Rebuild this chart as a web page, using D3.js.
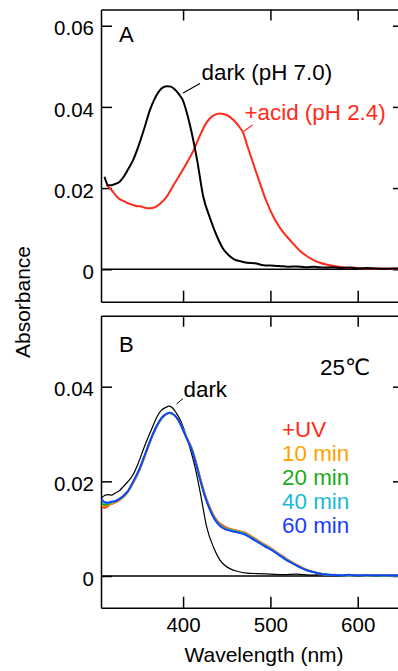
<!DOCTYPE html>
<html><head><meta charset="utf-8">
<script src="https://cdn.jsdelivr.net/npm/d3@7"></script>
<style>
html,body{margin:0;padding:0;background:#fff;overflow:hidden}
text{font-family:"Liberation Sans",Arial,"DejaVu Sans",sans-serif}
</style></head>
<body><svg id="c" width="398" height="671"></svg>
<script>
// ---- Data ----
const xTicks = [400, 500, 600];
const yTicksA = [0, 0.02, 0.04, 0.06];
const yTicksB = [0, 0.02, 0.04];

// Panel A: dark (pH 7.0)
const wlA_dark = [310,312,314,318,322,327,332,338,343,350,356,362,367,372,377,382,386,390,395,400,405,410,416,423,431,439,446,452,458,465,473,482,492,500,510,520,530,540,550,560,570,580,590,600,610,620,630,640,650];
const absA_dark = [0.0228,0.0215,0.0207,0.0207,0.0210,0.0215,0.0228,0.0250,0.0270,0.0310,0.0350,0.0392,0.0418,0.0437,0.0448,0.0451,0.0450,0.0444,0.0432,0.0415,0.0380,0.0335,0.0270,0.0180,0.0125,0.0080,0.0050,0.0035,0.0025,0.0020,0.0016,0.0015,0.0010,0.0009,0.0008,0.0006,0.0007,0.0005,0.0006,0.0004,0.0005,0.0003,0.0004,0.0002,0.0003,0.0002,0.0001,0.0002,0.0001];

// Panel A: +acid (pH 2.4)
const wlA_acid = [312,316,320,326,332,340,346,351,357,362,368,374,380,389,397,404,412,420,427,434,442,450,458,464,469,473,477,482,488,495,503,511,519,527,534,542,550,557,565,573,580,588,595,603,610,620,630,640,650];
const absA_acid = [0.0208,0.0200,0.0190,0.0175,0.0168,0.0160,0.0156,0.0155,0.0151,0.0150,0.0153,0.0162,0.0175,0.0207,0.0235,0.0261,0.0293,0.0333,0.0362,0.0378,0.0384,0.0380,0.0367,0.0352,0.0335,0.0308,0.0282,0.0250,0.0212,0.0170,0.0131,0.0102,0.0080,0.0061,0.0045,0.0032,0.0022,0.0016,0.0011,0.0008,0.0006,0.0003,0.0004,0.0002,0.0002,0.0001,0.0002,0.0001,0.0001];

// Panel B: dark
const wlB_dark = [307,310,314,318,322,327,332,337,343,349,355,360,365,370,375,380,384,388,392,397,402,408,414,420,427,435,442,448,454,462,473,485,500,515,530,545,560,575,590,605,620,635,650];
const absB_dark = [0.0165,0.0170,0.0172,0.0171,0.0175,0.0180,0.0190,0.0200,0.0215,0.0240,0.0270,0.0293,0.0315,0.0336,0.0350,0.0356,0.0359,0.0355,0.0345,0.0329,0.0305,0.0270,0.0228,0.0173,0.0104,0.0060,0.0034,0.0022,0.0015,0.0010,0.0006,0.0005,0.0004,0.0003,0.0004,0.0002,0.0003,0.0002,0.0002,0.0001,0.0002,0.0001,0.0001];

// Panel B: +UV series
const wlB_uv = [307,310,314,318,322,327,332,337,343,349,355,360,365,370,375,380,385,390,395,400,405,410,415,420,425,430,436,442,448,455,462,470,478,486,494,502,510,518,526,534,542,550,558,566,574,582,590,600,610,620,630,640,650];
const absB_uv0 = [0.0146,0.0144,0.0148,0.0152,0.0155,0.0160,0.0167,0.0178,0.0197,0.0219,0.0247,0.0272,0.0296,0.0316,0.0332,0.0341,0.0344,0.0340,0.0329,0.0310,0.0290,0.0270,0.0240,0.0205,0.0173,0.0148,0.0125,0.0111,0.0104,0.0099,0.0096,0.0092,0.0084,0.0075,0.0066,0.0057,0.0047,0.0037,0.0028,0.0020,0.0013,0.0008,0.0005,0.0002,0.0003,0.0001,0.0002,0.0002,0.0001,0.0002,0.0001,0.0002,0.0001];
const absB_uv10 = [0.0150,0.0147,0.0150,0.0153,0.0156,0.0161,0.0168,0.0178,0.0198,0.0220,0.0248,0.0273,0.0297,0.0317,0.0332,0.0341,0.0344,0.0340,0.0329,0.0309,0.0289,0.0269,0.0238,0.0203,0.0171,0.0146,0.0123,0.0109,0.0102,0.0098,0.0095,0.0091,0.0083,0.0074,0.0065,0.0056,0.0046,0.0036,0.0027,0.0019,0.0013,0.0008,0.0004,0.0003,0.0002,0.0002,0.0001,0.0002,0.0001,0.0001,0.0002,0.0001,0.0001];
const absB_uv20 = [0.0154,0.0150,0.0152,0.0155,0.0157,0.0162,0.0169,0.0179,0.0199,0.0221,0.0249,0.0274,0.0297,0.0317,0.0332,0.0341,0.0344,0.0340,0.0328,0.0309,0.0288,0.0268,0.0237,0.0202,0.0170,0.0145,0.0122,0.0108,0.0101,0.0097,0.0094,0.0090,0.0082,0.0073,0.0064,0.0055,0.0045,0.0035,0.0027,0.0019,0.0012,0.0008,0.0005,0.0002,0.0002,0.0001,0.0002,0.0001,0.0002,0.0001,0.0001,0.0002,0.0001];
const absB_uv40 = [0.0160,0.0154,0.0154,0.0156,0.0158,0.0163,0.0170,0.0180,0.0200,0.0222,0.0250,0.0275,0.0298,0.0318,0.0333,0.0342,0.0345,0.0340,0.0328,0.0308,0.0287,0.0267,0.0236,0.0201,0.0169,0.0144,0.0121,0.0107,0.0100,0.0096,0.0093,0.0089,0.0081,0.0072,0.0063,0.0055,0.0045,0.0035,0.0026,0.0018,0.0012,0.0008,0.0004,0.0003,0.0002,0.0002,0.0001,0.0002,0.0001,0.0002,0.0001,0.0001,0.0002];
const absB_uv60 = [0.0162,0.0156,0.0155,0.0157,0.0158,0.0163,0.0170,0.0180,0.0200,0.0222,0.0250,0.0275,0.0298,0.0318,0.0333,0.0342,0.0345,0.0340,0.0328,0.0308,0.0287,0.0266,0.0235,0.0200,0.0168,0.0143,0.0120,0.0106,0.0099,0.0095,0.0092,0.0088,0.0080,0.0071,0.0062,0.0054,0.0044,0.0034,0.0026,0.0018,0.0012,0.0008,0.0004,0.0003,0.0002,0.0001,0.0003,0.0001,0.0002,0.0001,0.0002,0.0001,0.0002];

const uvLabels = ["+UV", "10 min", "20 min", "40 min", "60 min"];
const uvColors = ["#ff2a1a", "#ffa200", "#1caa1c", "#18bcd4", "#1a3cff"];

// ---- Drawing ----
const svg = d3.select("#c");
const L = 101, R = 404;
const x = d3.scaleLinear().domain([306, 653]).range([L, R]);
const pA = {top: 9.5, bottom: 301.7};
const pB = {top: 315.7, bottom: 607.7};
const yA = d3.scaleLinear().domain([-0.008, 0.064]).range([pA.bottom, pA.top]);
const yB = d3.scaleLinear().domain([-0.0067, 0.055]).range([pB.bottom, pB.top]);
const fmt = d => d === 0 ? "0" : d.toFixed(2);
const TS = 11;

function frame(y, p, yt, showX) {
  const g = svg.append("g");
  const sty = sel => { sel.selectAll("path,line").attr("stroke", "#000").attr("stroke-width", 1.5);
                       sel.selectAll("text").attr("fill", "#000").attr("font-size", 20.5); };
  g.append("g").attr("transform", `translate(${L},0)`)
    .call(d3.axisLeft(y).tickValues(yt).tickSize(-TS).tickSizeOuter(0).tickPadding(7).tickFormat(fmt))
    .call(sty).call(s => s.selectAll("text").attr("dy", "0.45em"));
  g.append("g").attr("transform", `translate(${R},0)`)
    .call(d3.axisRight(y).tickValues(yt).tickSize(-TS).tickSizeOuter(0).tickFormat(""))
    .call(sty);
  g.append("g").attr("transform", `translate(0,${p.top})`)
    .call(d3.axisTop(x).tickValues(xTicks).tickSize(-TS).tickSizeOuter(0).tickFormat(""))
    .call(sty);
  g.append("g").attr("transform", `translate(0,${p.bottom})`)
    .call(d3.axisBottom(x).tickValues(xTicks).tickSize(-TS).tickSizeOuter(0).tickPadding(10).tickFormat(showX ? d3.format("d") : ""))
    .call(sty);
  g.selectAll(".domain").attr("fill", "none");
  // zero line
  g.append("line").attr("x1", L).attr("x2", R).attr("y1", y(0)).attr("y2", y(0))
    .attr("stroke", "#000").attr("stroke-width", 1.4);
}

frame(yA, pA, yTicksA, false);
frame(yB, pB, yTicksB, true);

function curve(wl, ab, y, color, w) {
  const line = d3.line().x(d => x(d[0])).y(d => y(d[1])).curve(d3.curveMonotoneX);
  svg.append("path").datum(d3.zip(wl, ab)).attr("d", line)
    .attr("fill", "none").attr("stroke", color).attr("stroke-width", w)
    .attr("stroke-linejoin", "round");
}

// Panel A curves
curve(wlA_acid, absA_acid, yA, "#ff2a1a", 2);
curve(wlA_dark, absA_dark, yA, "#000", 2);

// Panel B curves
curve(wlB_dark, absB_dark, yB, "#000", 1.2);
[absB_uv0, absB_uv10, absB_uv20, absB_uv40, absB_uv60].forEach((ab, i) => curve(wlB_uv, ab, yB, uvColors[i], 1.8));

// Labels
const T = (txt, xx, yy, opts = {}) => svg.append("text").attr("x", xx).attr("y", yy)
  .attr("font-size", opts.size || 22.4).attr("fill", opts.color || "#000")
  .attr("text-anchor", opts.anchor || "start").text(txt);

T("A", 119, 42, {size: 22});
T("B", 119, 352, {size: 22});
T("dark (pH 7.0)", 201.5, 80);
svg.append("line").attr("x1", 183).attr("y1", 93).attr("x2", 200).attr("y2", 83.5).attr("stroke", "#000").attr("stroke-width", 1.2);
T("+acid (pH 2.4)", 244.5, 120, {color: "#ff2a1a"});
svg.append("line").attr("x1", 243.5).attr("y1", 131.5).attr("x2", 252.5).attr("y2", 125).attr("stroke", "#ff2a1a").attr("stroke-width", 1.2);

T("dark", 183.5, 397);
svg.append("line").attr("x1", 176.5).attr("y1", 404).attr("x2", 183).attr("y2", 398.5).attr("stroke", "#000").attr("stroke-width", 1);
T("25℃", 320, 375);

uvLabels.forEach((lab, i) => T(lab, 282, 437 + i * 24.1, {color: uvColors[i]}));

// axis titles
T("Wavelength (nm)", 264, 662, {anchor: "middle", size: 21});
svg.append("text").attr("transform", "translate(30,302) rotate(-90)")
  .attr("text-anchor", "middle").attr("font-size", 21).attr("fill", "#000").text("Absorbance");
</script></body></html>
